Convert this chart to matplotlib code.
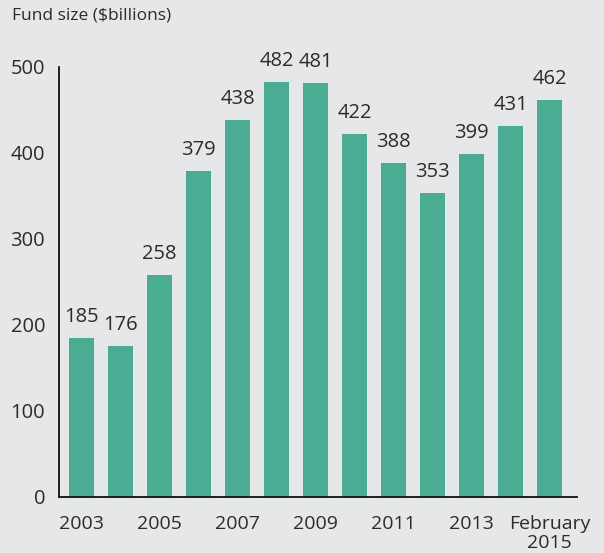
import matplotlib
matplotlib.use("Agg")
import matplotlib.pyplot as plt

categories = ["2003", "2004", "2005", "2006", "2007", "2008", "2009",
              "2010", "2011", "2012", "2013", "2014", "February\n2015"]
values = [185, 176, 258, 379, 438, 482, 481, 422, 388, 353, 399, 431, 462]
tick_labels = ["2003", "", "2005", "", "2007", "", "2009", "", "2011", "",
               "2013", "", "February\n2015"]
yticks = [0, 100, 200, 300, 400, 500]

plt.rcParams['font.family'] = ['Open Sans', 'DejaVu Sans']
bg = "#e6e7e9"
bar_color = "#4aad93"
txt = "#2b2b2b"

fig = plt.figure(figsize=(6.04, 5.53), dpi=100, facecolor=bg)
ax = fig.add_axes([59/604, 56/553, (577-59)/604, (497-67)/553])
ax.set_facecolor(bg)

x = list(range(len(values)))
ax.bar(x, values, width=0.64, color=bar_color, zorder=2)
for xi, v in zip(x, values):
    ax.annotate(str(v), (xi, v), xytext=(0, 8), textcoords="offset points",
                ha="center", va="bottom", fontsize=14.5, color=txt)

ax.set_xlim(-0.577, 12.705)
ax.set_ylim(0, 500)
ax.set_yticks(yticks)
ax.set_yticklabels([str(t) for t in yticks], fontsize=14.5, color=txt)
ax.set_xticks(x)
ax.set_xticklabels(tick_labels, fontsize=14, color=txt, linespacing=1.05)
ax.tick_params(axis="both", length=0)
ax.tick_params(axis="y", pad=10)
ax.tick_params(axis="x", pad=13)
for s in ["top", "right"]:
    ax.spines[s].set_visible(False)
for s in ["left", "bottom"]:
    ax.spines[s].set_color("#111111")
    ax.spines[s].set_linewidth(1.3)

fig.text(12/604, 1 - 8/553, "Fund size ($billions)", ha="left", va="top",
         fontsize=12.5, color=txt)

fig.savefig("out.png", dpi=100, facecolor=bg)
